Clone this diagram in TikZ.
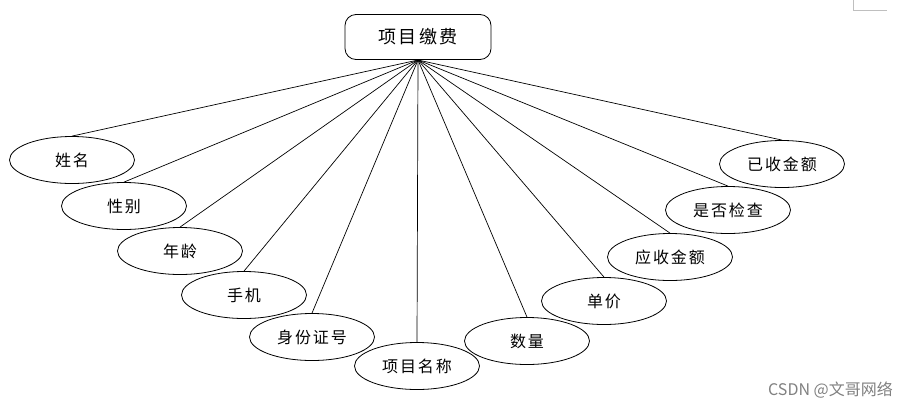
\documentclass[tikz,border=0pt]{standalone}
\usepackage{fontspec}
\newfontfamily\cjk{Noto Sans CJK SC}
\newfontfamily\cjksp[LetterSpace=12]{Noto Sans CJK SC}
\usetikzlibrary{shapes.geometric}
\begin{document}
\begin{tikzpicture}[x=1pt,y=-1pt,
  attr/.style={ellipse,draw,line width=0.8pt,minimum width=125pt,minimum height=47pt,inner sep=0pt,font=\cjksp\fontsize{16}{19}\selectfont},
  ent/.style={rounded corners=11pt,draw,line width=0.8pt,minimum width=146pt,minimum height=45pt,inner sep=0pt,font=\cjksp\fontsize{18}{21}\selectfont},
  link/.style={line width=0.7pt}]
\useasboundingbox (0,0) rectangle (909,410);
\node[ent] (e) at (418,37) {项目缴费};
\coordinate (hub) at (418,60);
\node[attr] (a1) at (72,160) {姓名};
\node[attr] (a2) at (124,206) {性别};
\node[attr] (a3) at (180,251) {年龄};
\node[attr] (a4) at (244,295) {手机};
\node[attr] (a5) at (312,337) {身份证号};
\node[attr] (a6) at (417,366) {项目名称};
\node[attr] (a7) at (527,341) {数量};
\node[attr] (a8) at (604,301) {单价};
\node[attr] (a9) at (670,257) {应收金额};
\node[attr] (a10) at (728,210) {是否检查};
\node[attr] (a11) at (782,164) {已收金额};
\foreach \i in {1,...,11} \draw[link] (hub) -- (a\i.north);
\draw[gray!50,line width=0.8pt] (853,0) -- (853,10) -- (887,10);
\node[font=\cjk\fontsize{16}{18}\selectfont,text=gray,anchor=east,inner sep=0pt] (wm) at (893,390) {CSDN @文哥网络};
\end{tikzpicture}
\end{document}
